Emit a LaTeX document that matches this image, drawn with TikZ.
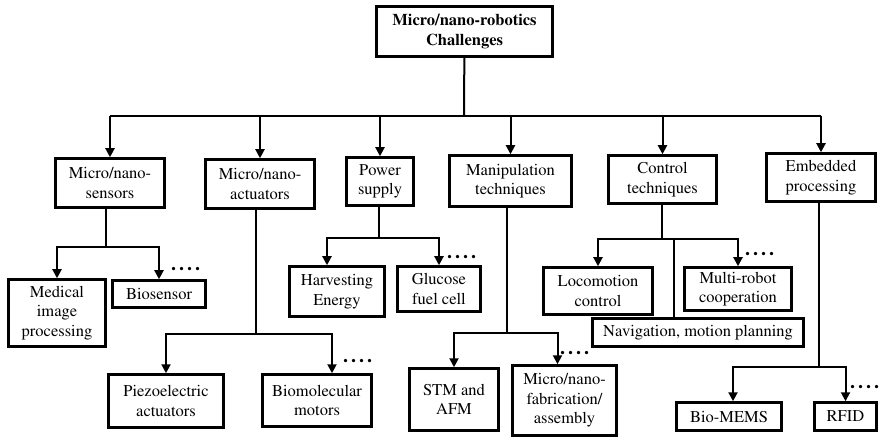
\documentclass[tikz,border=0pt]{standalone}
\usepackage[T1]{fontenc}
\renewcommand{\rmdefault}{ptm}
\usetikzlibrary{arrows.meta,positioning}

\begin{document}
\begin{tikzpicture}[x=1pt,y=-1pt,>={Triangle[length=9pt,width=9pt]},
  box/.style={draw,line width=2.5pt,align=center,inner sep=0pt,font=\fontsize{16.5}{19.5}\selectfont},
  con/.style={line width=2pt},
  more/.style={anchor=west,inner sep=0pt,font=\bfseries\fontsize{20}{20}\selectfont}]
  \useasboundingbox (0,0) rectangle (883,438);
  % root and first level
  \node (root) [box,font=\bfseries\fontsize{16.5}{19.5}\selectfont,minimum width=176pt,minimum height=50pt] at (464.5,31.5) {Micro/nano-robotics\\Challenges};
  \node (sens) [box,minimum width=109pt,minimum height=49pt] at (110,183) {Micro/nano-\\sensors};
  \node (act) [box,minimum width=109pt,minimum height=49pt] at (260,184) {Micro/nano-\\actuators};
  \node (pow) [box,minimum width=67pt,minimum height=48pt] at (380,181.5) {Power\\supply};
  \node (man) [box,minimum width=122pt,minimum height=51pt] at (510.5,181) {Manipulation\\techniques};
  \node (ctl) [box,minimum width=108pt,minimum height=48pt] at (662.5,179.5) {Control\\techniques};
  \node (emb) [box,minimum width=109pt,minimum height=48pt] at (821,177.5) {Embedded\\processing};
  % second level
  \node (med) [box,minimum width=97pt,minimum height=67pt] at (57,313) {Medical\\image\\processing};
  \node (bios) [box,minimum width=93pt,minimum height=27pt] at (159,294) {Biosensor};
  \node (piezo) [box,minimum width=115pt,minimum height=53pt] at (166,401) {Piezoelectric\\actuators};
  \node (bmot) [box,minimum width=109pt,minimum height=52pt] at (317,400.5) {Biomolecular\\motors};
  \node (harv) [box,minimum width=95pt,minimum height=50pt] at (337,291.5) {Harvesting\\Energy};
  \node (gluc) [box,minimum width=83pt,minimum height=45pt] at (439,289) {Glucose\\fuel cell};
  \node (stm) [box,minimum width=89pt,minimum height=62pt] at (454,399.5) {STM and\\AFM};
  \node (fab) [box,minimum width=104pt,minimum height=70pt] at (564.5,400.5) {Micro/nano-\\fabrication/\\assembly};
  \node (loco) [box,minimum width=109pt,minimum height=47pt] at (598,291) {Locomotion\\control};
  \node (multi) [box,minimum width=107pt,minimum height=43pt] at (738,289) {Multi-robot\\cooperation};
  \node (nav) [box,minimum width=211pt,minimum height=28pt] at (698,332.5) {Navigation, motion planning};
  \node (bmems) [box,minimum width=105pt,minimum height=28pt] at (729,416.5) {Bio-MEMS};
  \node (rfid) [box,minimum width=62pt,minimum height=28pt] at (845.5,416.5) {RFID};
  % junctions
  \coordinate (rb) at (464,116);
  \coordinate (sj) at (106,247);
  \coordinate (aj) at (256,334);
  \coordinate (pj) at (379,238);
  \coordinate (mj) at (507,333);
  \coordinate (cj) at (662,239);
  \coordinate (ej) at (819,367);
  % connectors
  \draw[con] (root) -- (rb);
  \draw[con] (rb -| sens) -- (rb -| emb);
  \foreach \n in {sens,act,pow,man,ctl,emb} \draw[con,->] (rb -| \n) -- (\n);
  \draw[con] (sj |- sens.south) -- (sj);
  \draw[con,->] (sj) -| (med);
  \draw[con,->] (sj) -| (bios);
  \draw[con] (aj |- act.south) -- (aj);
  \draw[con,->] (aj) -| (piezo);
  \draw[con,->] (aj) -| ([xshift=15pt]bmot.north);
  \draw[con] (pj |- pow.south) -- (pj);
  \draw[con,->] (pj) -| ([xshift=-10pt]harv.north);
  \draw[con,->] (pj) -| (gluc);
  \draw[con] (mj |- man.south) -- (mj);
  \draw[con,->] (mj) -| (stm);
  \draw[con,->] (mj) -| ([xshift=-7pt]fab.north);
  \draw[con] (cj |- ctl.south) -- (cj);
  \draw[con,->] (cj) -| (loco);
  \draw[con,->] (cj) -| (multi);
  \draw[con] (cj) -| ([xshift=-24pt]nav.north);
  \draw[con] (ej |- emb.south) -- (ej);
  \draw[con,->] (ej) -| ([xshift=4pt]bmems.north);
  \draw[con,->] (ej) -| (rfid);
  % dots after the last arrow
  \foreach \n/\x/\y in {dsens/171/269,dact/343/361,dpow/447/257,dman/560/353,dctl/745/254,demb/850/387}
    \node (\n) [more] at (\x,\y) {.\kern3pt.\kern3pt.\kern3pt.};
\end{tikzpicture}
\end{document}
